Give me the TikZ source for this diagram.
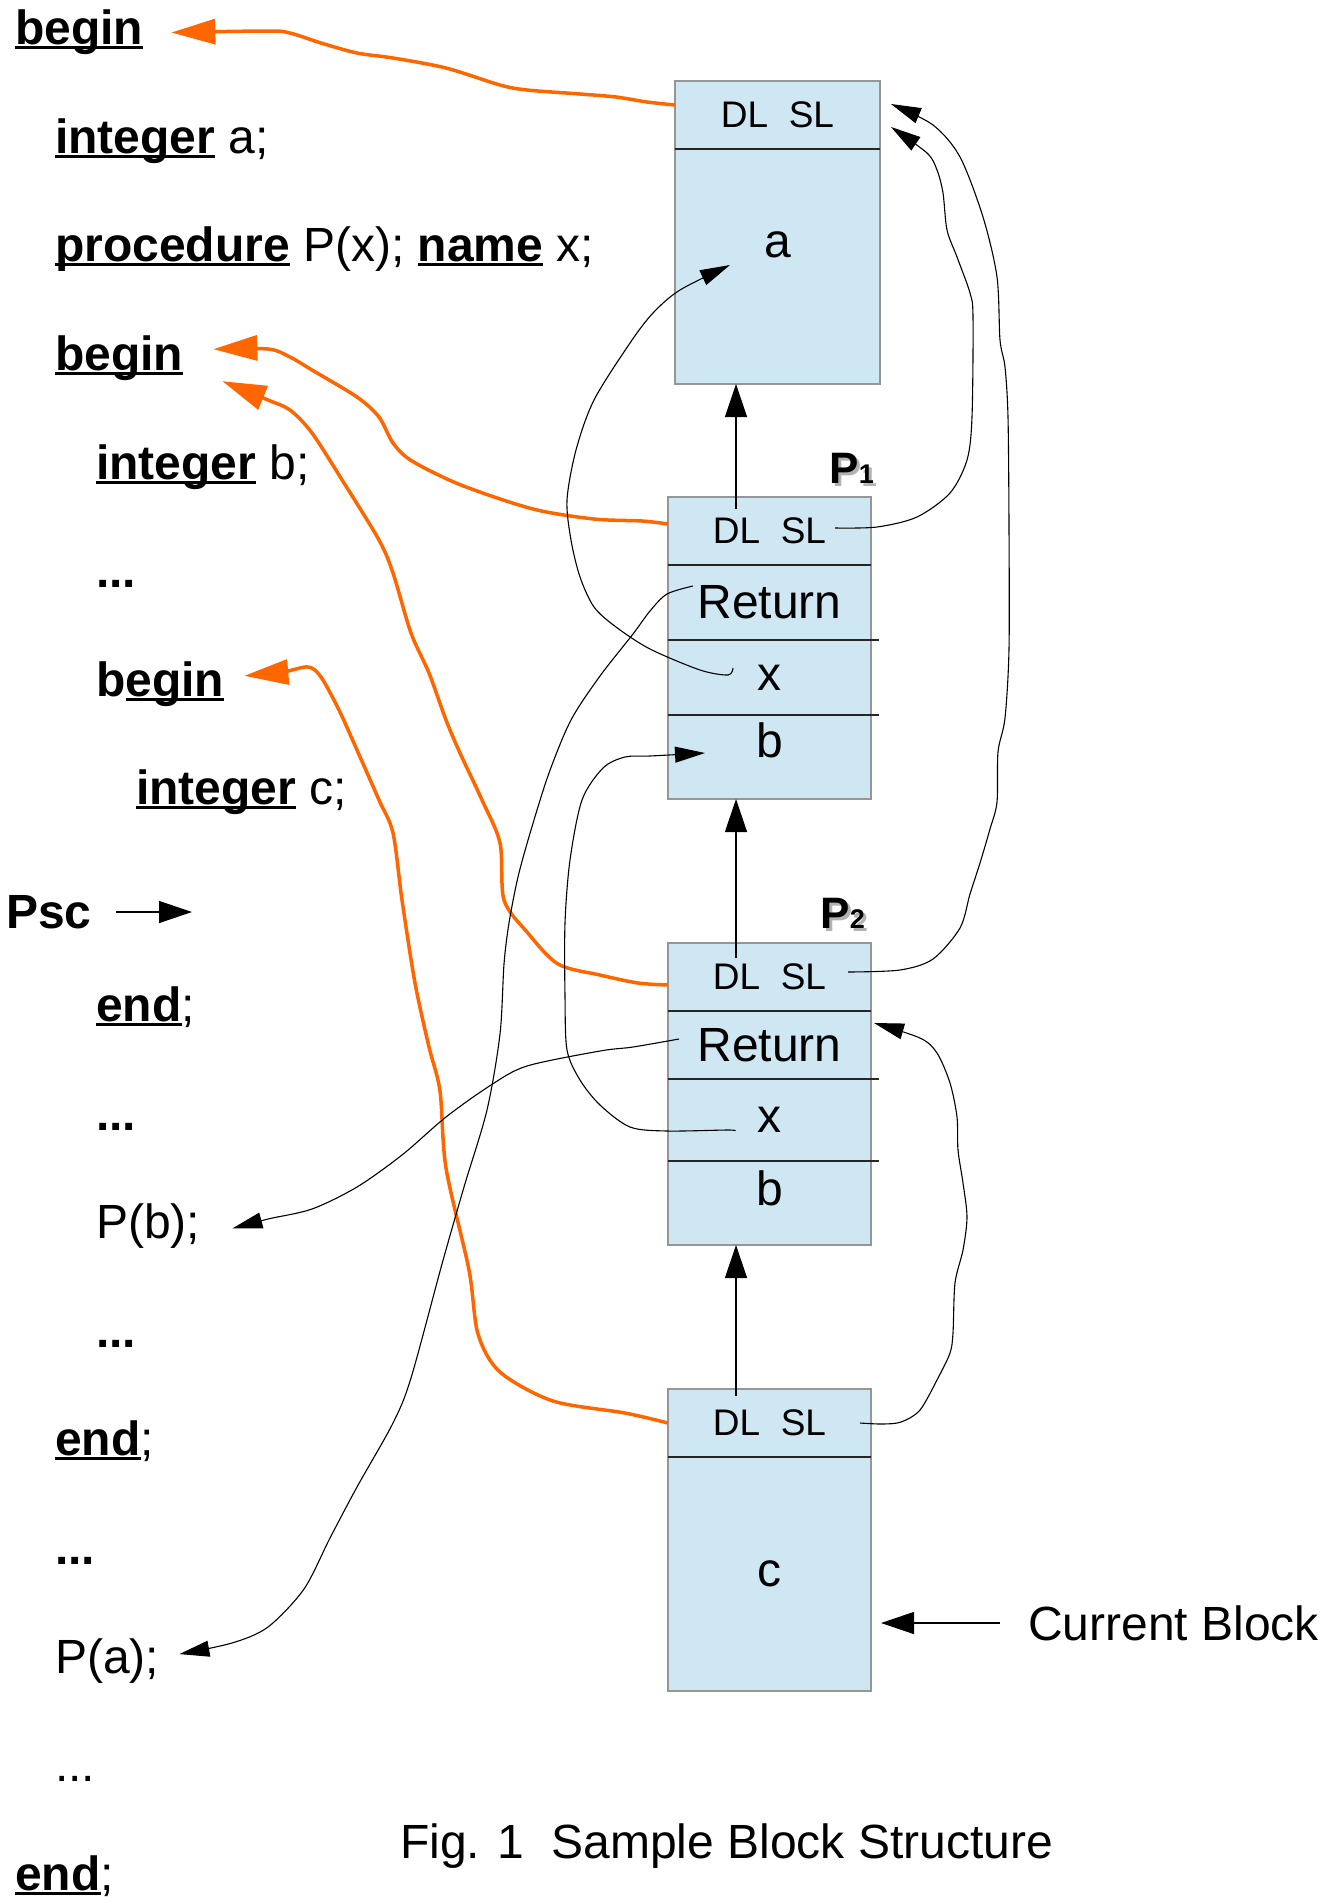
\documentclass[tikz,border=0pt]{standalone}
\usepackage{fontspec}
\setmainfont{Liberation Sans}
\usepackage{xcolor}
\usepackage{tikz}
\usetikzlibrary{positioning}
\usetikzlibrary{arrows.meta}

\definecolor{frameblue}{RGB}{207,230,243}
\definecolor{frameedge}{RGB}{150,150,150}
\definecolor{linkorange}{RGB}{255,102,0}

\newcommand\kw[1]{\setbox0\hbox{\bfseries #1}\rlap{\rule[-4.5pt]{\wd0}{3pt}}\box0\relax}
\newcommand\shadowed[1]{\rlap{\kern3pt\raisebox{-3pt}{\color{black!30}#1}}#1}

\begin{document}
\begin{tikzpicture}[x=1pt, y=-1pt,
    code/.style={anchor=base west, inner sep=0pt, font=\fontsize{48}{58}\selectfont},
    cell/.style={draw=frameedge, line width=1.5pt, fill=frameblue, minimum width=203pt,
                 inner sep=0pt, outer sep=0pt, anchor=north west},
    dlsl/.style={font=\fontsize{37}{40}\selectfont},
    big/.style={font=\fontsize{48}{56}\selectfont},
    plabel/.style={inner sep=0pt, anchor=base east, font=\bfseries\fontsize{44}{48}\selectfont},
    rowline/.style={line width=1.2pt, draw=black!85},
    dynlink/.style={draw=linkorange, line width=3.5pt, -{Triangle[length=44pt,width=25pt]}},
    namelink/.style={draw=black, line width=1.1pt, -{Triangle[length=30pt,width=16pt]}},
    uplink/.style={draw=black, line width=1.3pt, -{Triangle[length=33pt,width=22pt]}}]
    \useasboundingbox (0,0) rectangle (1337,1901);

    % Program text
    \node[code] (beg1) at (15,44.8) {\kw{begin}};
    \node[code] (inta) at (55,153.4) {\kw{integer} a;};
    \node[code] (proc) at (55,261.9) {\kw{procedure} P(x); \kw{name} x;};
    \node[code] (beg2) at (55,370.5) {\kw{begin}};
    \node[code] (intb) at (96,479) {\kw{integer} b;};
    \node[code] (dots1) at (96,587.6) {\textbf{...}};
    \node[code] (beg3) at (96,696.1) {\textbf{b}\kw{egin}};
    \node[code] (intc) at (136,804.7) {\kw{integer} c;};
    \node[code, anchor=west] (psc) at (6,912) {\textbf{Psc}};
    \node[code] (end3) at (96,1021.8) {\kw{end};};
    \node[code] (dots2) at (96,1130.3) {\textbf{...}};
    \node[code] (callb) at (96,1238.8) {P(b);};
    \node[code] (dots3) at (96,1347.4) {\textbf{...}};
    \node[code] (end2) at (55,1455.9) {\kw{end};};
    \node[code] (dots4) at (55,1564.5) {\textbf{...}};
    \node[code] (calla) at (55,1673) {P(a);};
    \node[code] (dots5) at (55,1781.6) {...};
    \node[code] (end1) at (15,1890.1) {\kw{end};};

    % Stack frames
    \node[cell, dlsl, minimum width=205pt, minimum height=68pt] (Adl) at (675,81) {DL~~SL};
    \node[cell, big, minimum width=205pt, minimum height=235pt, text depth=43pt, below=0pt of Adl] (Aa) {a};

    \node[cell, dlsl, minimum height=68pt] (P1dl) at (668,497) {DL~~SL};
    \node[cell, big, minimum height=75pt, below=0pt of P1dl] (P1ret) {Return};
    \node[cell, big, minimum height=75pt, below=0pt of P1ret] (P1x) {x};
    \node[cell, big, minimum height=84pt, text depth=34pt, below=0pt of P1x] (P1b) {b};

    \node[cell, dlsl, minimum height=68pt] (P2dl) at (668,943) {DL~~SL};
    \node[cell, big, minimum height=68pt, below=0pt of P2dl] (P2ret) {Return};
    \node[cell, big, minimum height=82pt, below=0pt of P2ret] (P2x) {x};
    \node[cell, big, minimum height=84pt, text depth=30pt, below=0pt of P2x] (P2b) {b};

    \node[cell, dlsl, minimum height=68pt] (Cdl) at (668,1389) {DL~~SL};
    \node[cell, big, minimum height=234pt, below=0pt of Cdl] (Cc) {c};

    \foreach \c in {Aa, P1ret, P2ret, Cc}
        \draw[rowline] (\c.north west) -- (\c.north east);
    \foreach \c in {P1x, P1b, P2x, P2b}
        \draw[rowline] (\c.north west) -- ([xshift=8pt]\c.north east);

    \node[plabel] (P1lab) at (874,483) {\shadowed{P{\fontsize{27}{27}\selectfont 1}}};
    \node[plabel] (P2lab) at (865,928) {\shadowed{P{\fontsize{27}{27}\selectfont 2}}};

    \node[big, anchor=west, inner sep=0pt] (cur) at (1028,1623) {Current Block};
    \node[big, anchor=base west, inner sep=0pt] (caption) at (400,1858) {Fig. 1~~Sample Block Structure};
    \coordinate (curtip) at (881,1623);
    \coordinate (psctip) at (192,912);

    % Dynamic links
    \draw[uplink] ([xshift=-33.5pt,yshift=22pt]P1dl.center) -- ([xshift=-41.5pt]Aa.south);
    \draw[uplink] ([xshift=-33.5pt,yshift=19pt]P2dl.center) -- ([xshift=-33.5pt]P1b.south);
    \draw[uplink] ([xshift=-33.5pt,yshift=27pt]Cdl.center) -- ([xshift=-33.5pt]P2b.south);
    \draw[uplink] ([xshift=-28pt]cur.west) -- (curtip);
    \draw[uplink] ([xshift=24pt]psc.east) -- (psctip);

    % Frames back to their blocks
    \draw[dynlink] plot[smooth] coordinates {([yshift=10pt]Adl.west) (647,102) (616,97) (580,94)
        (527,90) (500,85) (446,68) (393,58) (357,53) (321,43) (290,33) (268,31) ([xshift=28pt]beg1.east)};
    \draw[dynlink] plot[smooth] coordinates {([yshift=7pt]P1dl.west) (642,521) (594,519) (533,509)
        (461,485) (412,461) (393,443) (379,417) (357,397) (312,370) (290,357) (268,349) ([xshift=30pt,yshift=9pt]beg2.east)};
    \draw[dynlink] plot[smooth] coordinates {([yshift=-8pt]P2dl.west) (638,983) (600,975) (558,964)
        (527,932) (504,900) (500,843) (482,800) (460,753) (446,720) (429,673) (411,633) (393,573)
        (379,540) (344,483) (312,433) (290,410) (268,400) ([xshift=39pt,yshift=-23pt]beg2.east)};
    \draw[dynlink] plot[smooth] coordinates {(Cdl.west) (625,1413) (553,1401) (500,1372) (478,1334)
        (469,1270) (446,1168) (440,1091) (429,1047) (415,983) (402,900) (393,833) (379,800)
        (357,750) (339,710) (321,677) (308,667) (283,672) ([xshift=20pt,yshift=8pt]beg3.east)};

    % Static links
    \draw[namelink] plot[smooth] coordinates {([xshift=65.5pt,yshift=3pt]P1dl.center) (877,527) (917,517)
        (950,493) (967,460) (972,417) (973,317) (970,293) (957,257) (947,230) (943,193) (937,170)
        (927,153) ([xshift=11pt,yshift=-12pt]Adl.east)};
    \draw[namelink] plot[smooth] coordinates {([xshift=78.5pt,yshift=5pt]P2dl.center) (900,970) (933,959)
        (960,928) (970,894) (980,863) (990,829) (997,802) (998,752) (1005,718) (1009,649) (1009,527)
        (1008,417) (1005,367) (1000,340) (997,277) (983,217) (960,157) (933,125)
        ([xshift=11pt,yshift=11pt]Adl.east)};
    \draw[namelink] plot[smooth] coordinates {([xshift=90.5pt]Cdl.center) (882,1424) (901,1422) (920,1410)
        (938,1378) (950,1353) (953,1333) (955,1283) (963,1250) (967,1217) (963,1183) (958,1150)
        (957,1117) (950,1083) (937,1053) (920,1038) ([xshift=3pt,yshift=-12pt]P2ret.north east)};

    % Name parameters and return addresses
    \draw[namelink] plot[smooth] coordinates {([xshift=-36.5pt,yshift=9.5pt]P1x.center) (728,675) (700,670)
        (650,649) (616,627) (594,607) (580,577) (571,540) (567,500) (576,450) (594,400) (630,343)
        (653,313) (680,290) ([xshift=-47.5pt,yshift=1.5pt]Aa.center)};
    \draw[namelink] plot[smooth] coordinates {([xshift=-76.5pt,yshift=16.5pt]P1ret.center) (667,594) (650,611)
        (633,634) (600,676) (571,720) (549,773) (531,830) (518,877) (509,923) (504,964) (500,1034)
        (487,1110) (464,1187) (442,1264) (411,1378) (393,1423) (357,1487) (330,1538) (304,1589)
        (268,1627) (232,1643) ([xshift=20pt,yshift=6.5pt]calla.east)};
    \draw[namelink] plot[smooth] coordinates {([xshift=-34.5pt,yshift=-11pt]P2x.center) (728,1130) (667,1131)
        (630,1127) (600,1105) (580,1080) (567,1050) (565,996) (565,923) (570,860) (582,800) (603,768)
        (625,757) (650,756) ([xshift=-64.5pt,yshift=4pt]P1b.center)};
    \draw[namelink] plot[smooth] coordinates {([xshift=-90.5pt,yshift=6pt]P2ret.center) (633,1047) (600,1051)
        (527,1066) (491,1085) (446,1117) (402,1155) (357,1187) (312,1209) (268,1219)
        ([xshift=32pt,yshift=-2pt]callb.east)};
\end{tikzpicture}
\end{document}
